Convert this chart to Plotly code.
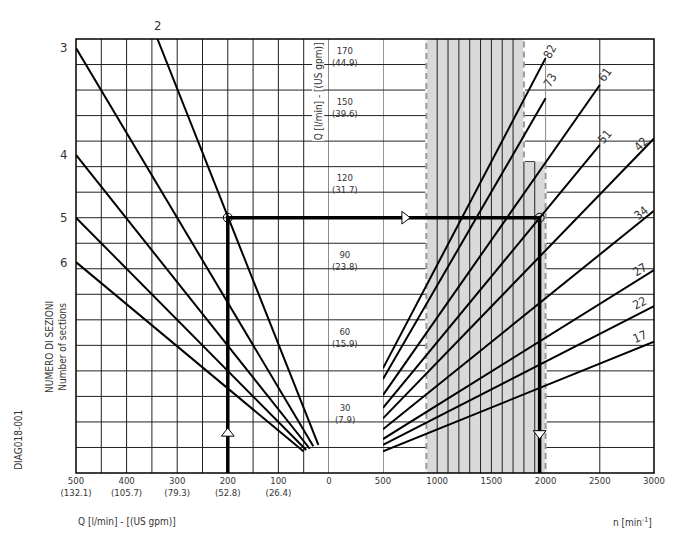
import plotly.graph_objects as go

# left part: total flow Q [l/min] vs flow per section, one line per number of sections
sections = [2, 3, 4, 5, 6]
sec_q_start = [339, 500, 500, 500, 500]
sec_qs_start = [170, 166.5, 124.6, 100, 82.6]
sec_q_end = [21, 31, 38, 45, 50]
sec_qs_end = [11, 10.5, 9.5, 9, 8.4]

# right part: speed n [min^-1] vs flow, one line per displacement
disp = ["82", "73", "61", "51", "42", "34", "27", "22", "17"]
disp_n_start = [500] * 9
disp_q_start = [41, 36.8, 30.5, 25.5, 21.4, 17.1, 13.3, 11, 8.5]
disp_n_end = [2000, 2000, 2500, 2500, 3000, 3000, 3000, 3000, 3000]
disp_q_end = [162.5, 146.8, 152, 128.5, 131, 102.7, 79.5, 65.4, 51.4]
lbl_n = [2037, 2043, 2544, 2544, 2882, 2882, 2867, 2873, 2867]
lbl_q = [165, 154, 156, 131.7, 129, 102, 79.6, 66.5, 53.4]
lbl_ang = [-62, -60, -55, -50, -46, -39, -32, -27, -22]

# axis ticks
q_ticks = [500, 400, 300, 200, 100, 0]
q_ticktext = ["500<br>(132.1)", "400<br>(105.7)", "300<br>(79.3)", "200<br>(52.8)", "100<br>(26.4)", "0"]
n_ticks = [500, 1000, 1500, 2000, 2500, 3000]
mid_vals = [170, 150, 120, 90, 60, 30]
mid_gpm = ["44.9", "39.6", "31.7", "23.8", "15.9", "7.9"]

# worked example
ex_q, ex_qs, ex_n = 200, 100, 1945

# shaded working range
shade_n = [900, 900, 1800, 1800, 2000, 2000]
shade_q = [0, 170, 170, 122, 122, 0]

FONT = "Liberation Sans Narrow, Arial Narrow, DejaVu Sans Condensed, sans-serif"
TXT = "#333333"
L_DOM = [0, 0.4377]
R_DOM = [0.5311, 1]

fig = go.Figure()

for i in range(len(sections)):
    fig.add_trace(go.Scatter(x=[sec_q_start[i], sec_q_end[i]], y=[sec_qs_start[i], sec_qs_end[i]],
                             mode="lines", line=dict(color="black", width=2), xaxis="x", yaxis="y"))

for i in range(len(disp)):
    fig.add_trace(go.Scatter(x=[disp_n_start[i], disp_n_end[i]], y=[disp_q_start[i], disp_q_end[i]],
                             mode="lines", line=dict(color="black", width=2), xaxis="x2", yaxis="y"))

# example path
fig.add_trace(go.Scatter(x=[ex_q, ex_q, 0], y=[0, ex_qs, ex_qs], mode="lines",
                         line=dict(color="black", width=3.5), xaxis="x", yaxis="y"))
fig.add_trace(go.Scatter(x=[500, ex_n, ex_n], y=[ex_qs, ex_qs, 0], mode="lines",
                         line=dict(color="black", width=3.5), xaxis="x2", yaxis="y"))
fig.add_trace(go.Scatter(x=[ex_q], y=[ex_qs], mode="markers", xaxis="x", yaxis="y",
                         marker=dict(symbol="circle-open", size=9, color="black", line=dict(width=1))))
fig.add_trace(go.Scatter(x=[ex_n], y=[ex_qs], mode="markers", xaxis="x2", yaxis="y",
                         marker=dict(symbol="circle-open", size=9, color="black", line=dict(width=1))))
fig.add_trace(go.Scatter(x=[ex_q], y=[15.5], mode="markers", xaxis="x", yaxis="y",
                         marker=dict(symbol="triangle-up", size=11, color="white", line=dict(color="black", width=1))))
fig.add_trace(go.Scatter(x=[ex_n], y=[15.5], mode="markers", xaxis="x2", yaxis="y",
                         marker=dict(symbol="triangle-down", size=11, color="white", line=dict(color="black", width=1))))
fig.add_trace(go.Scatter(x=[700], y=[ex_qs], mode="markers", xaxis="x2", yaxis="y",
                         marker=dict(symbol="triangle-right", size=11, color="white", line=dict(color="black", width=1))))

shapes = []
# shaded range
path = "M " + " L ".join(f"{n},{q}" for n, q in zip(shade_n, shade_q)) + " Z"
shapes.append(dict(type="path", path=path, xref="x2", yref="y", fillcolor="#d9d9d9",
                   line=dict(width=0), layer="below"))
# horizontal grid across whole width
for q in range(10, 170, 10):
    shapes.append(dict(type="line", xref="paper", yref="y", x0=0, x1=1, y0=q, y1=q,
                       line=dict(color="#222", width=1), layer="below"))
# left vertical grid
for q in range(0, 500, 50):
    shapes.append(dict(type="line", xref="x", yref="y", x0=q, x1=q, y0=0, y1=170,
                       line=dict(color="#222", width=1), layer="below"))
# right vertical grid
for n in [500, 1000, 1100, 1200, 1300, 1400, 1500, 1600, 1700, 2500]:
    shapes.append(dict(type="line", xref="x2", yref="y", x0=n, x1=n, y0=0, y1=170,
                       line=dict(color="#222", width=1), layer="below"))
for n in [1800, 1900]:
    shapes.append(dict(type="line", xref="x2", yref="y", x0=n, x1=n, y0=0, y1=122,
                       line=dict(color="#222", width=1), layer="below"))
shapes.append(dict(type="line", xref="x2", yref="y", x0=1800, x1=1900, y0=122, y1=122,
                   line=dict(color="#444", width=1), layer="below"))
shapes.append(dict(type="line", xref="x2", yref="y", x0=2000, x1=2000, y0=122, y1=163,
                   line=dict(color="#888", width=1), layer="below"))
# dashed boundaries of the range
for n, q0, q1 in [(900, 0, 170), (2000, 0, 122), (1800, 122, 170)]:
    shapes.append(dict(type="line", xref="x2", yref="y", x0=n, x1=n, y0=q0, y1=q1,
                       line=dict(color="#9a9a9a", width=2), layer="below"))
    shapes.append(dict(type="line", xref="x2", yref="y", x0=n, x1=n, y0=q0, y1=q1,
                       line=dict(color="white", width=2, dash="4px,6px"), layer="below"))
# example path through the middle column
shapes.append(dict(type="line", xref="paper", yref="y", x0=L_DOM[1], x1=R_DOM[0], y0=ex_qs, y1=ex_qs,
                   line=dict(color="black", width=3.5)))
# frame
shapes.append(dict(type="rect", xref="paper", yref="paper", x0=0, x1=1, y0=0, y1=1,
                   line=dict(color="black", width=1.5)))

ann = []
for s, q in zip(sections[1:], sec_qs_start[1:]):
    ann.append(dict(text=str(s), xref="paper", yref="y", x=-0.012, y=q, xanchor="right",
                    showarrow=False, font=dict(size=13)))
ann.append(dict(text=str(sections[0]), xref="x", yref="paper", x=sec_q_start[0], y=1.01,
                yanchor="bottom", showarrow=False, font=dict(size=13)))
for i in range(len(disp)):
    ann.append(dict(text=disp[i], xref="x2", yref="y", x=lbl_n[i], y=lbl_q[i], textangle=lbl_ang[i],
                    showarrow=False, font=dict(size=12)))
for v, g in zip(mid_vals, mid_gpm):
    ann.append(dict(text=f"{v}<br>({g})", xref="paper", yref="y", x=0.4655, y=v - 1.5,
                    xanchor="center", yanchor="top", showarrow=False, font=dict(size=9.5)))
ann.append(dict(text="Q [l/min] - [(US gpm)]", xref="paper", yref="y", x=0.4187, y=149.5,
                textangle=-90, showarrow=False, bgcolor="white", borderpad=0, font=dict(size=10)))
ann.append(dict(text="NUMERO DI SEZIONI<br>Number of sections", xref="paper", yref="y", x=-0.0346, y=49.4,
                xanchor="center", textangle=-90, showarrow=False, font=dict(size=10)))
ann.append(dict(text="DIAG018-001", xref="paper", yref="y", x=-0.0986, y=13,
                xanchor="center", textangle=-90, showarrow=False, font=dict(size=10)))
ann.append(dict(text="Q [l/min] - [(US gpm)]", xref="paper", yref="paper", x=0, y=-0.094,
                xanchor="left", yanchor="top", showarrow=False, font=dict(size=10)))
ann.append(dict(text="n [min<sup>-1</sup>]", xref="paper", yref="paper", x=1, y=-0.094,
                xanchor="right", yanchor="top", showarrow=False, font=dict(size=10)))

# the page body adds an 8px offset, so the figure is drawn 8px smaller with margins moved in
fig.update_layout(
    width=680, height=529,
    margin=dict(l=68, r=34, t=31, b=64),
    paper_bgcolor="white", plot_bgcolor="white",
    showlegend=False,
    font=dict(family=FONT, size=10, color=TXT),
    xaxis=dict(domain=L_DOM, range=[500, 0], tickvals=q_ticks, ticktext=q_ticktext,
               showgrid=False, zeroline=False, ticks="", tickfont=dict(size=9.5), anchor="y"),
    xaxis2=dict(domain=R_DOM, range=[500, 3000], tickvals=n_ticks, showgrid=False,
                zeroline=False, ticks="", tickfont=dict(size=9.5), anchor="y"),
    yaxis=dict(range=[0, 170], showgrid=False, zeroline=False, showticklabels=False, ticks=""),
    shapes=shapes,
    annotations=ann,
)

fig.write_html("out.html")
